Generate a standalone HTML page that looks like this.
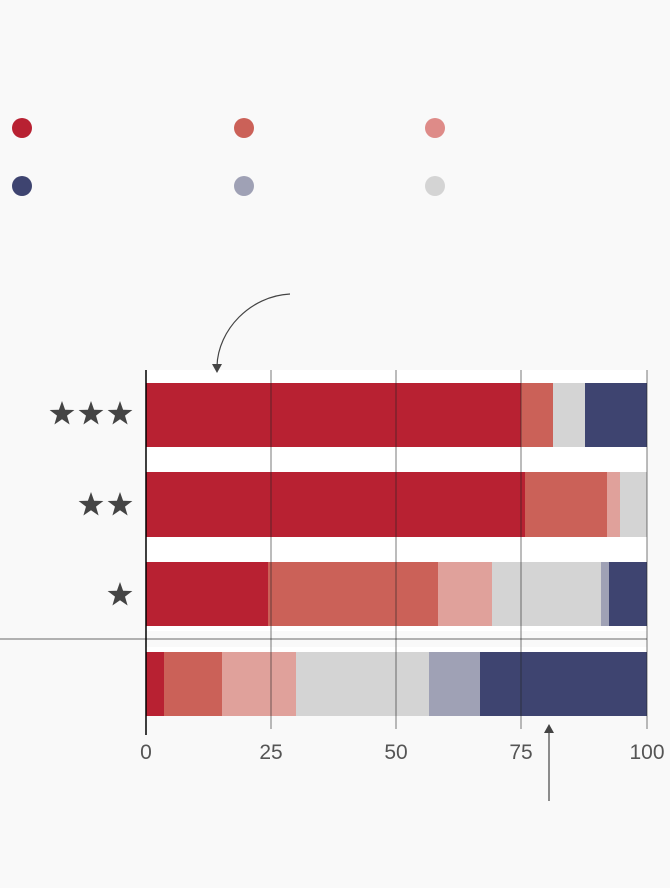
<!DOCTYPE html>
<html><head><meta charset="utf-8"><style>
body{margin:0;background:#f9f9f9;}
svg{display:block}
text{font-family:"Liberation Sans",sans-serif;}
</style></head><body>
<svg width="670" height="888" viewBox="0 0 670 888" xmlns="http://www.w3.org/2000/svg">
<defs>
<polygon id="st" points="0,-13 3.1,-4.2 12.4,-4 5,1.6 7.6,10.5 0,5.2 -7.6,10.5 -5,1.6 -12.4,-4 -3.1,-4.2" fill="#444"/>
</defs>
<rect width="670" height="888" fill="#f9f9f9"/>
<g>
<circle cx="22" cy="128" r="10" fill="#b82132"/>
<circle cx="244" cy="128" r="10" fill="#cb6158"/>
<circle cx="435" cy="128" r="10" fill="#de8b88"/>
<circle cx="22" cy="186" r="10" fill="#3e4470"/>
<circle cx="244" cy="186" r="10" fill="#9fa1b5"/>
<circle cx="435" cy="186" r="10" fill="#d4d4d4"/>
</g>
<rect x="146" y="370" width="501" height="346" fill="#fff"/>
<rect x="146" y="383" width="375" height="64" fill="#b82132"/>
<rect x="521" y="383" width="32" height="64" fill="#cb6158"/>
<rect x="553" y="383" width="32" height="64" fill="#d4d4d4"/>
<rect x="585" y="383" width="62" height="64" fill="#3e4470"/>
<rect x="146" y="472" width="379" height="65" fill="#b82132"/>
<rect x="525" y="472" width="82" height="65" fill="#cb6158"/>
<rect x="607" y="472" width="13" height="65" fill="#e0a19b"/>
<rect x="620" y="472" width="27" height="65" fill="#d4d4d4"/>
<rect x="146" y="562" width="122" height="64" fill="#b82132"/>
<rect x="268" y="562" width="170" height="64" fill="#cb6158"/>
<rect x="438" y="562" width="54" height="64" fill="#e0a19b"/>
<rect x="492" y="562" width="109" height="64" fill="#d4d4d4"/>
<rect x="601" y="562" width="8" height="64" fill="#9fa1b5"/>
<rect x="609" y="562" width="38" height="64" fill="#3e4470"/>
<rect x="146" y="652" width="18" height="64" fill="#b82132"/>
<rect x="164" y="652" width="58" height="64" fill="#cb6158"/>
<rect x="222" y="652" width="74" height="64" fill="#e0a19b"/>
<rect x="296" y="652" width="133" height="64" fill="#d4d4d4"/>
<rect x="429" y="652" width="51" height="64" fill="#9fa1b5"/>
<rect x="480" y="652" width="167" height="64" fill="#3e4470"/>
<rect x="0" y="631" width="647" height="16" fill="#f9f9f9"/>
<line x1="0" y1="639" x2="647" y2="639" stroke="#999" stroke-width="1.5"/>
<g stroke="#222" stroke-opacity="0.6" stroke-width="1">
<line x1="271" y1="370" x2="271" y2="729"/>
<line x1="396" y1="370" x2="396" y2="729"/>
<line x1="521" y1="370" x2="521" y2="729"/>
<line x1="647" y1="370" x2="647" y2="729"/>
</g>
<line x1="146" y1="370" x2="146" y2="735" stroke="#000" stroke-width="1.5"/>
<g font-size="21" fill="#555" text-anchor="middle">
<text x="146" y="759">0</text>
<text x="271" y="759">25</text>
<text x="396" y="759">50</text>
<text x="521" y="759">75</text>
<text x="647" y="759">100</text>
</g>
<use href="#st" x="62" y="414"/>
<use href="#st" x="91" y="414"/>
<use href="#st" x="120" y="414"/>
<use href="#st" x="91" y="505"/>
<use href="#st" x="120" y="505"/>
<use href="#st" x="120" y="595"/>
<path d="M290 294 C250 296 218 330 217 366" fill="none" stroke="#444" stroke-width="1.2"/>
<polygon points="212,364 222,364 217,373" fill="#444"/>
<line x1="549" y1="801" x2="549" y2="732" stroke="#444" stroke-width="1.2"/>
<polygon points="544,733 554,733 549,724" fill="#444"/>
</svg>
</body></html>
